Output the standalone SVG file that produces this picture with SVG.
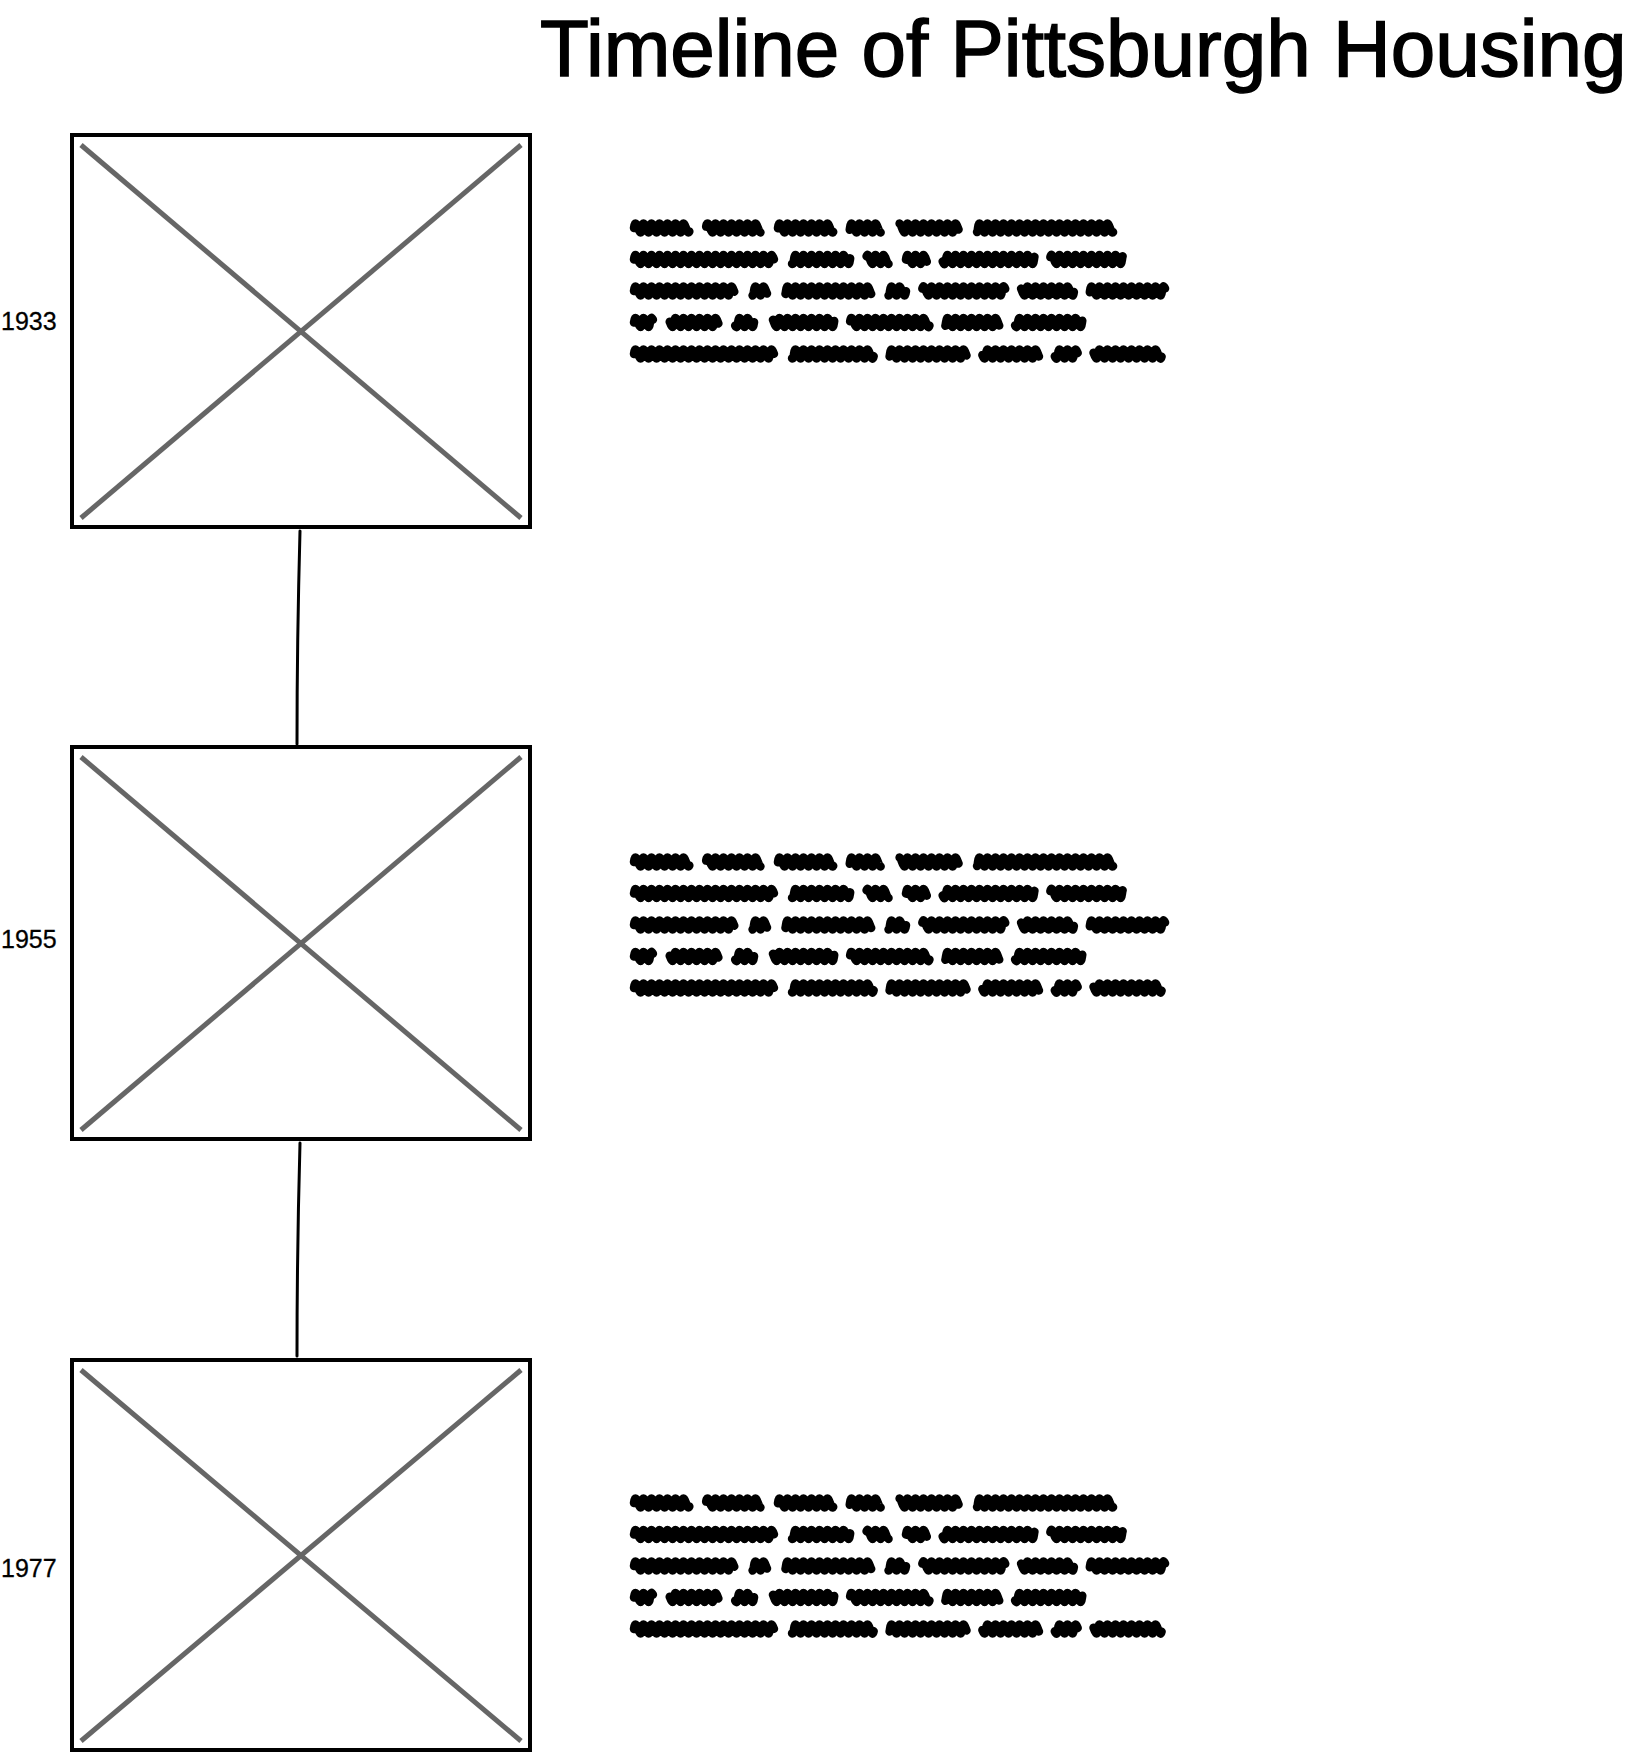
<svg xmlns="http://www.w3.org/2000/svg" xmlns:xlink="http://www.w3.org/1999/xlink" width="1636" height="1754" viewBox="0 0 1636 1754">
<style>
.bg{fill:#ffffff}
.box{fill:#ffffff;stroke:#000000;stroke-width:4}
.cross{stroke:#666666;stroke-width:5;fill:none}
.year{font-family:"Liberation Sans",Arial,sans-serif;font-size:25px;fill:#000000;stroke:#000000;stroke-width:0.3}
.title{font-family:"Liberation Sans",Arial,sans-serif;font-size:80px;fill:#000000;stroke:#000000;stroke-width:1.5}
.conn{fill:none;stroke:#000000;stroke-width:3;stroke-linecap:round}
.scr{fill:none;stroke:#000000;stroke-width:8.5;stroke-linecap:round;stroke-linejoin:round}
</style>
<defs>
<path id="wave" pathLength="536" d="M634 0q1 -9 4 0t4 0t4 0t4 0t4 0t4 0t4 0t4 0t4 0t4 0t4 0t4 0t4 0t4 0t4 0t4 0t4 0t4 0t4 0t4 0t4 0t4 0t4 0t4 0t4 0t4 0t4 0t4 0t4 0t4 0t4 0t4 0t4 0t4 0t4 0t4 0t4 0t4 0t4 0t4 0t4 0t4 0t4 0t4 0t4 0t4 0t4 0t4 0t4 0t4 0t4 0t4 0t4 0t4 0t4 0t4 0t4 0t4 0t4 0t4 0t4 0t4 0t4 0t4 0t4 0t4 0t4 0t4 0t4 0t4 0t4 0t4 0t4 0t4 0t4 0t4 0t4 0t4 0t4 0t4 0t4 0t4 0t4 0t4 0t4 0t4 0t4 0t4 0t4 0t4 0t4 0t4 0t4 0t4 0t4 0t4 0t4 0t4 0t4 0t4 0t4 0t4 0t4 0t4 0t4 0t4 0t4 0t4 0t4 0t4 0t4 0t4 0t4 0t4 0t4 0t4 0t4 0t4 0t4 0t4 0t4 0t4 0t4 0t4 0t4 0t4 0t4 0t4 0t4 0t4 0t4 0t4 0t4 0"/>
<g id="scribble" class="scr">
<use xlink:href="#wave" href="#wave" y="0" stroke-dasharray="55 18 54 18 55 17 31 20 59 18 137 100"/>
<use xlink:href="#wave" href="#wave" y="31.5" stroke-dasharray="141 18 59 17 21 18 21 16 93 16 73 100"/>
<use xlink:href="#wave" href="#wave" y="63" stroke-dasharray="101 18 15 18 87 17 18 17 83 16 53 16 76 100"/>
<use xlink:href="#wave" href="#wave" y="94.5" stroke-dasharray="19 17 49 17 19 19 62 16 79 16 55 16 68 100"/>
<use xlink:href="#wave" href="#wave" y="126" stroke-dasharray="141 18 82 16 78 16 57 16 23 16 68 100"/>
</g>
</defs>
<rect class="bg" x="0" y="0" width="1636" height="1754"/>
<g id="title">
<text class="title" x="540" y="76">Timeline of Pittsburgh Housing</text>
</g>
<g id="connectors">
<path class="conn" d="M300 531Q297 640 297 744"/>
<path class="conn" d="M300 1143Q297 1250 297 1356"/>
</g>
<g id="node-1933">
<rect class="box" x="72" y="135" width="458" height="392"/>
<line class="cross" x1="81" y1="145" x2="521" y2="518"/>
<line class="cross" x1="521" y1="145" x2="81" y2="518"/>
<text class="year" x="1" y="330">1933</text>
<use xlink:href="#scribble" href="#scribble" y="228"/>
</g>
<g id="node-1955">
<rect class="box" x="72" y="747" width="458" height="392"/>
<line class="cross" x1="81" y1="757" x2="521" y2="1130"/>
<line class="cross" x1="521" y1="757" x2="81" y2="1130"/>
<text class="year" x="1" y="948">1955</text>
<use xlink:href="#scribble" href="#scribble" y="862"/>
</g>
<g id="node-1977">
<rect class="box" x="72" y="1360" width="458" height="390"/>
<line class="cross" x1="81" y1="1370" x2="521" y2="1741"/>
<line class="cross" x1="521" y1="1370" x2="81" y2="1741"/>
<text class="year" x="1" y="1577">1977</text>
<use xlink:href="#scribble" href="#scribble" y="1503"/>
</g>
</svg>
